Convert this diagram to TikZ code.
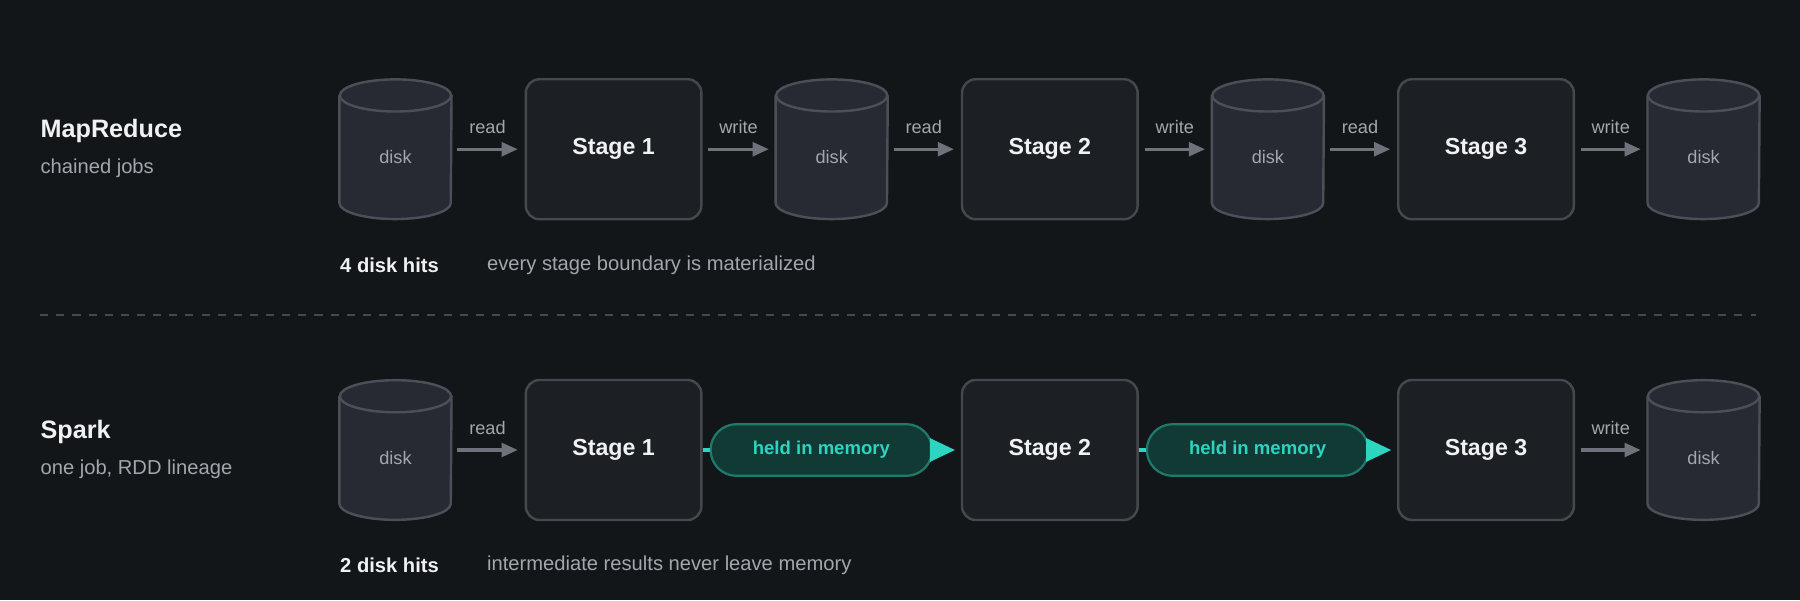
\documentclass[tikz,border=0pt]{standalone}
\usepackage{fontspec}
\setmainfont{Liberation Sans}
\usetikzlibrary{shapes.misc,arrows.meta,calc}
\definecolor{bg}{HTML}{131619}
\definecolor{boxfill}{HTML}{1C1F23}
\definecolor{boxline}{HTML}{45484E}
\definecolor{diskfill}{HTML}{272A32}
\definecolor{diskline}{HTML}{4C4F57}
\definecolor{txt}{HTML}{F0F1F3}
\definecolor{gtxt}{HTML}{A2A6AD}
\definecolor{arr}{HTML}{6E727B}
\definecolor{teal}{HTML}{2DD4BF}
\definecolor{pillfill}{HTML}{123A35}
\definecolor{pillline}{HTML}{1F7A6C}
\tikzset{
  stage/.style={draw=boxline,fill=boxfill,line width=1.2pt,rounded corners=0.24cm,minimum width=3.06cm,minimum height=2.44cm,inner sep=0,text=txt,font=\fontsize{11.5}{13}\selectfont\bfseries},
  diskbox/.style={inner sep=0,minimum width=1.94cm,minimum height=2.42cm},
  dtext/.style={text=gtxt,font=\fontsize{9}{11}\selectfont},
  flow/.style={draw=arr,line width=1.5pt,-{Triangle[length=0.28cm,width=0.24cm]}},
  flab/.style={text=gtxt,font=\fontsize{9}{11}\selectfont},
  pill/.style={rounded rectangle,draw=pillline,fill=pillfill,line width=1.1pt,minimum width=3.86cm,minimum height=0.9cm,inner sep=0,text=teal,font=\fontsize{9.2}{11}\selectfont\bfseries},
  mem/.style={draw=teal,line width=1.7pt},
  title/.style={anchor=west,inner sep=0,text=txt,font=\fontsize{12.5}{14}\selectfont\bfseries},
  sub/.style={anchor=west,inner sep=0,text=gtxt,font=\fontsize{10}{12}\selectfont},
  hits/.style={anchor=west,inner sep=0,text=txt,font=\fontsize{10}{12}\selectfont\bfseries},
  note/.style={anchor=west,inner sep=0,text=gtxt,font=\fontsize{10}{12}\selectfont},
}
\newcommand\mydisk[3]{%
  \node[diskbox] (#1) at (#2,#3) {};
  \fill[diskfill] ([yshift=0.28cm]#1.south west) arc[start angle=180,end angle=360,x radius=0.97cm,y radius=0.28cm] -- ([yshift=-0.28cm]#1.north east) arc[start angle=0,end angle=180,x radius=0.97cm,y radius=0.28cm] -- cycle;
  \draw[diskline,line width=1.2pt,line join=round] ([yshift=-0.28cm]#1.north west) -- ([yshift=0.28cm]#1.south west) arc[start angle=180,end angle=360,x radius=0.97cm,y radius=0.28cm] -- ([yshift=-0.28cm]#1.north east);
  \draw[diskline,line width=1.2pt] ([yshift=-0.28cm]#1.north) ellipse[x radius=0.97cm,y radius=0.28cm];
  \node[dtext] at ([yshift=-0.14cm]#1.center) {disk};
}
\begin{document}
\begin{tikzpicture}[x=0.02cm,y=0.02cm]
\fill[bg] (0,0) rectangle (1568,-523);
\useasboundingbox (0,0) rectangle (1568,-523);
% row 1
\node[title] (t1) at (35,-114) {MapReduce};
\node[sub] (s1) at (35,-147) {chained jobs};
\mydisk{a0}{344.5}{-130}
\node[stage] (a1) at (534.5,-130) {Stage 1};
\mydisk{a2}{724.5}{-130}
\node[stage] (a3) at (914.5,-130) {Stage 2};
\mydisk{a4}{1104.5}{-130}
\node[stage] (a5) at (1294.5,-130) {Stage 3};
\mydisk{a6}{1484}{-130}
\foreach \u/\v/\l in {a0/a1/read,a1/a2/write,a2/a3/read,a3/a4/write,a4/a5/read,a5/a6/write}{
  \draw[flow] ([xshift=0.1cm]\u.east) -- ([xshift=-0.12cm]\v.west) node[midway,above=0.12cm,flab] {\l};
}
\node[hits] (h1) at (296,-231) {4 disk hits};
\node[note] (n1) at (424,-231) {every stage boundary is materialized};
% divider
\draw[boxline,line width=1pt,dash pattern=on 4pt off 4pt] (35,-274) -- (1530,-274);
% row 2
\node[title] (t2) at (35,-376) {Spark};
\node[sub] (s2) at (35,-409) {one job, RDD lineage};
\mydisk{b0}{344.5}{-392}
\node[stage] (b1) at (534.5,-392) {Stage 1};
\node[pill] (p1) at (715.5,-392) {held in memory};
\node[stage] (b3) at (914.5,-392) {Stage 2};
\node[pill] (p2) at (1095.5,-392) {held in memory};
\node[stage] (b5) at (1294.5,-392) {Stage 3};
\mydisk{b6}{1484}{-392}
\draw[flow] ([xshift=0.1cm]b0.east) -- ([xshift=-0.12cm]b1.west) node[midway,above=0.12cm,flab] {read};
\draw[flow] ([xshift=0.1cm]b5.east) -- ([xshift=-0.12cm]b6.west) node[midway,above=0.12cm,flab] {write};
\draw[mem] (b1.east) -- (p1.west);
\draw[mem] (b3.east) -- (p2.west);
\draw[mem,-{Triangle[length=0.44cm,width=0.4cm]}] (p1.east) -- ([xshift=-0.1cm]b3.west);
\draw[mem,-{Triangle[length=0.44cm,width=0.4cm]}] (p2.east) -- ([xshift=-0.1cm]b5.west);
\node[hits] (h2) at (296,-492) {2 disk hits};
\node[note] (n2) at (424,-492) {intermediate results never leave memory};
\end{tikzpicture}
\end{document}
